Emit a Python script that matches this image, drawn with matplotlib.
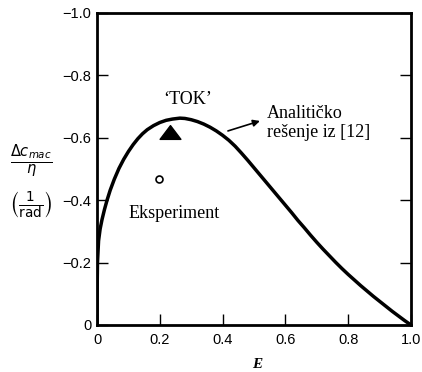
import numpy as np
import matplotlib
matplotlib.use('Agg')
import matplotlib.pyplot as plt
from matplotlib.path import Path

# analytic curve
E_curve = [0.0, 0.0003, 0.0015, 0.005, 0.01, 0.016, 0.024, 0.032, 0.042, 0.055,
           0.07, 0.085, 0.10, 0.115, 0.13, 0.145, 0.16, 0.18, 0.20, 0.22,
           0.24, 0.264, 0.28, 0.30, 0.32, 0.34, 0.36, 0.38, 0.40, 0.42,
           0.44, 0.46, 0.48, 0.50, 0.52, 0.54, 0.56, 0.58, 0.60, 0.62,
           0.64, 0.66, 0.68, 0.70, 0.72, 0.74, 0.76, 0.78, 0.80, 0.82,
           0.84, 0.86, 0.88, 0.90, 0.92, 0.94, 0.96, 0.98, 1.0]
dc_curve = [0.0, -0.10, -0.20, -0.27, -0.308, -0.338, -0.371, -0.40, -0.432, -0.467,
            -0.502, -0.531, -0.556, -0.578, -0.597, -0.613, -0.626, -0.639, -0.649, -0.656,
            -0.660, -0.663, -0.662, -0.658, -0.652, -0.644, -0.634, -0.622, -0.608, -0.592,
            -0.573, -0.551, -0.528, -0.504, -0.480, -0.456, -0.432, -0.408, -0.384, -0.360,
            -0.335, -0.312, -0.288, -0.265, -0.243, -0.222, -0.201, -0.181, -0.162, -0.144,
            -0.126, -0.109, -0.092, -0.076, -0.060, -0.044, -0.029, -0.014, 0.0]

# TOK point and experiment
E_tok = [0.232]
dc_tok = [-0.619]
E_exp = [0.198]
dc_exp = [-0.468]

xticks = [0, 0.2, 0.4, 0.6, 0.8, 1.0]
xtick_labels = ['0', '0.2', '0.4', '0.6', '0.8', '1.0']
yticks = [0, -0.2, -0.4, -0.6, -0.8, -1.0]
ytick_labels = ['0', '\u22120.2', '\u22120.4', '\u22120.6', '\u22120.8', '\u22121.0']

plt.rcParams['font.family'] = ['Liberation Sans', 'DejaVu Sans']

fig = plt.figure(figsize=(4.22, 3.72), dpi=100)
ax = fig.add_axes([97/422, 1-325/372, 314/422, 312/372])

ax.plot(E_curve, dc_curve, color='black', lw=2.5, solid_capstyle='round',
        solid_joinstyle='round')

tri = Path([(-1, -0.66), (1, -0.66), (0, 0.66), (-1, -0.66)],
           [Path.MOVETO, Path.LINETO, Path.LINETO, Path.CLOSEPOLY])
ax.plot(E_tok, dc_tok, linestyle='none', marker=tri, markersize=15,
        color='black', clip_on=False)
ax.plot(E_exp, dc_exp, linestyle='none', marker='o', markersize=5,
        markerfacecolor='white', markeredgecolor='black', mew=1.2)

ax.set_xlim(0, 1.0)
ax.set_ylim(0, -1.0)
ax.set_xticks(xticks)
ax.set_xticklabels(xtick_labels)
ax.set_yticks(yticks)
ax.set_yticklabels(ytick_labels)
ax.tick_params(axis='both', direction='in', length=8, width=1, labelsize=10.5)
ax.tick_params(axis='y', right=True, pad=4)
ax.tick_params(axis='x', pad=6)
for s in ax.spines.values():
    s.set_linewidth(2)

serif = ['Liberation Serif', 'DejaVu Serif']
ax.text(0.29, -0.724, '\u2018TOK\u2019', family=serif, fontsize=13,
        ha='center', va='center')
ax.text(0.541, -0.646, 'Analitičko\nrešenje iz [12]', family=serif, fontsize=13,
        ha='left', va='center', linespacing=1.15)
ax.text(0.099, -0.356, 'Eksperiment', family=serif, fontsize=13,
        ha='left', va='center')
ax.annotate('', xy=(0.519, -0.654), xytext=(0.417, -0.622),
            arrowprops=dict(arrowstyle='-|>', color='black', lw=1.2,
                            mutation_scale=10, shrinkA=0, shrinkB=0))

fig.text(31/422, 1-161/372, r'$\frac{\Delta c_{mac}}{\eta}$', fontsize=15,
         ha='center', va='center')
fig.text(31/422, 1-205/372, r'$\left(\frac{1}{\mathrm{rad}}\right)$', fontsize=14,
         ha='center', va='center')
fig.text(257/422, 1-365/372, 'E', family=serif, style='italic', weight='bold',
         fontsize=11, ha='center', va='center')

fig.savefig('out.png', dpi=100)
